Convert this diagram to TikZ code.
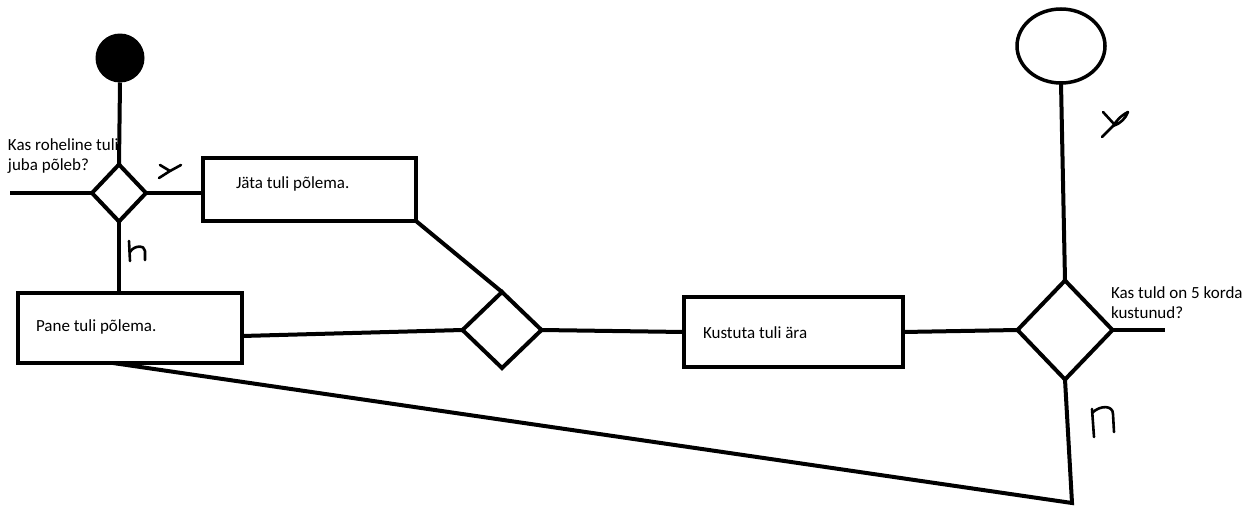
\documentclass[tikz,border=0pt]{standalone}
\usepackage{fontspec}
\setmainfont{Carlito}
\usetikzlibrary{shapes.geometric}
\begin{document}
\begin{tikzpicture}[x=1pt,y=-1pt,
  every node/.style={inner sep=0pt, outer sep=0pt},
  flow/.style={line width=4pt},
  stepbox/.style={draw, rectangle, line width=4.5pt},
  choice/.style={draw, diamond, line width=4pt},
  txt/.style={font=\fontsize{17}{20}\selectfont, align=left},
  hand/.style={line width=2.6pt, line cap=round, line join=round}]
\useasboundingbox (0,0) rectangle (1255,506);

% question texts (drawn first, the flow lines pass over them);
% base anchor of a two-line node sits on its last line
\node[txt, anchor=base west] (q1) at (8,170) {Kas roheline tuli\\juba põleb?};
\node[txt, anchor=base west] (q2) at (1111,318) {Kas tuld on 5 korda\\kustunud?};

% start and end
\node[circle, fill=black, minimum size=49pt] (start) at (120,58) {};
\node[ellipse, draw, line width=3.5pt, minimum width=88pt, minimum height=74pt] (end) at (1061,46) {};

% decisions
\node[choice, minimum width=54pt, minimum height=57pt] (d1) at (119,193) {};
\node[choice, minimum width=79pt, minimum height=76pt] (d2) at (502,330) {};
\node[choice, minimum width=95pt, minimum height=99pt] (d3) at (1065,330) {};

% actions
\node[stepbox, minimum width=213pt, minimum height=63pt] (b1) at (309.5,189.5) {};
\node[stepbox, minimum width=224pt, minimum height=70pt] (b2) at (130,328) {};
\node[stepbox, minimum width=219pt, minimum height=70pt] (b3) at (793.5,332) {};
\node[txt, anchor=base west] (t1) at (236,188) {Jäta tuli põlema.};
\node[txt, anchor=base west] (t2) at (36,331) {Pane tuli põlema.};
\node[txt, anchor=base west] (t3) at (703,338) {Kustuta tuli ära};

% free ends
\coordinate (in1) at (10,193);
\coordinate (out1) at (1165,330);
\coordinate (corner) at (1072,503);

% connectors
\draw[flow] (start.south) -- (d1.north);
\draw[flow] (d1.west) -- (in1);
\draw[flow] (d1.east) -- (d1.east -| b1.west);
\draw[flow] (d1.south) -- (d1.south |- b2.north);
\draw[flow] (b1.south east) -- (d2.north);
\draw[flow] ([yshift=-8pt]b2.east) -- (d2.west);
\draw[flow] (d2.east) -- (b3.west);
\draw[flow] (b3.east) -- (d3.west);
\draw[flow] (d3.east) -- (out1);
\draw[flow] (d3.north) -- (end.south);
\draw[flow] (d3.south) -- (corner) -- ([xshift=-17pt]b2.south);

% hand-written branch marks
\draw[hand] (160,165) -- (170,171);
\draw[hand] (159,178) -- (170,171) -- (181,165);
\draw[hand] (129,241) -- (130,261);
\draw[hand] (130,252) .. controls (134,245) and (145,245) .. (145,251) -- (145,260);
\draw[hand] (1103,112) -- (1114,124);
\draw[hand] (1102,137) -- (1113,126);
\draw[hand] (1113,126) .. controls (1119,117) and (1124,114) .. (1128,112)
  .. controls (1126,118) and (1120,124) .. (1113,126);
\draw[hand] (1092,409) -- (1094,437);
\draw[hand] (1092,413) .. controls (1100,405) and (1113,405) .. (1113,414) -- (1114,432);
\end{tikzpicture}
\end{document}
